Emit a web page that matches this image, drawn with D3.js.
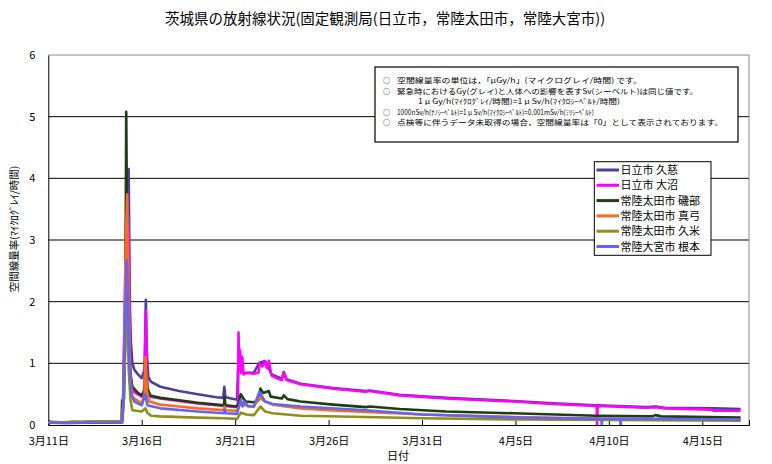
<!DOCTYPE html>
<html><head><meta charset="utf-8">
<script src="https://cdn.jsdelivr.net/npm/d3@7"></script>
<style>
body{margin:0;background:#fff;}
svg{display:block;font-family:"Noto Sans CJK JP","Noto Sans",sans-serif;}
</style></head><body>
<svg id="c" width="772" height="464"></svg>
<script>
// ---- data (time = days after 2011-03-11 00:00, value = μGy/h) ----
const titleText = "茨城県の放射線状況(固定観測局(日立市，常陸太田市，常陸大宮市))";
const yTitle = "空間線量率(ﾏｲｸﾛｸﾞﾚｲ/時間)";
const xTitle = "日付";
const seriesNames = ["日立市 久慈","日立市 大沼","常陸太田市 磯部","常陸太田市 真弓","常陸太田市 久米","常陸大宮市 根本"];
const seriesColors = ["#4B3F9B","#FF00FF","#1E3D10","#F76C1E","#8F8F1A","#6464F0"];
const yTicks = [0,1,2,3,4,5,6];
const xTickDays = [0,5,10,15,20,25,30,35];
const xTickLabels = ["3月11日","3月16日","3月21日","3月26日","3月31日","4月5日","4月10日","4月15日"];
const noteBullets = ["○","○","","○","○"];
const noteLines = [
  "空間線量率の単位は，「μGy/h」(マイクログレイ/時間) です。",
  "緊急時におけるGy(グレイ)と人体への影響を表すSv(シーベルト)は同じ値です。",
  "1 μ Gy/h(ﾏｲｸﾛｸﾞﾚｲ/時間)=1 μ Sv/h(ﾏｲｸﾛｼｰﾍﾞﾙﾄ/時間)",
  "1000nSv/h(ﾅﾉｼｰﾍﾞﾙﾄ)=1 μ Sv/h(ﾏｲｸﾛｼｰﾍﾞﾙﾄ)=0.001mSv/h(ﾐﾘｼｰﾍﾞﾙﾄ)",
  "点検等に伴うデータ未取得の場合，空間線量率は「0」として表示されております。"
];
const noteIndent = [0,0,1,0,0];
const noteWidths = [245,301,202,197,326];

const kuji = [[0,0.05],[1,0.04],[2,0.05],[3,0.04],[3.95,0.05],[4.0,0.3],[4.15,2.5],[4.3,4.15],[4.36,2.0],[4.42,1.33],[4.5,1.0],[4.6,0.9],[4.8,0.82],[5.0,0.76],[5.15,0.9],[5.22,2.03],[5.27,1.2],[5.35,0.78],[5.5,0.7],[6,0.62],[7,0.55],[8,0.5],[9,0.45],[9.36,0.44],[9.42,0.62],[9.48,0.45],[10.1,0.41],[10.2,1.27],[10.3,0.9],[10.45,0.84],[11,0.85],[11.3,1.01],[11.6,1.04],[11.95,0.82],[12.5,0.75],[12.6,0.86],[12.75,0.74],[13.5,0.67],[15.25,0.6],[17,0.55],[17.2,0.56],[18.8,0.49],[21.3,0.44],[24.9,0.39],[27,0.35],[29.3,0.32],[32,0.29],[32.5,0.3],[33,0.28],[35.6,0.27],[37.05,0.26]];
const onuma = [[0,0.04],[1,0.04],[2,0.04],[3,0.04],[3.95,0.04],[4.0,0.3],[4.2,3.92],[4.3,3.0],[4.38,0.9],[4.5,0.55],[5.0,0.46],[5.15,0.6],[5.22,1.85],[5.3,0.6],[5.45,0.46],[6,0.43],[7,0.39],[8,0.35],[9,0.32],[10.1,0.29],[10.15,0.35],[10.18,1.5],[10.22,0.9],[10.27,1.2],[10.32,0.85],[10.38,1.1],[10.45,0.82],[10.6,0.85],[11.0,0.83],[11.25,0.85],[11.3,1.0],[11.45,0.95],[11.6,1.03],[11.7,0.92],[11.8,1.04],[11.95,0.8],[12.3,0.75],[12.5,0.73],[12.6,0.85],[12.75,0.73],[13.5,0.66],[15.25,0.59],[17,0.54],[17.2,0.55],[18.8,0.48],[21.3,0.43],[24.9,0.38],[27,0.34],[29.35,0.31],[29.37,0],[29.4,0.31],[32,0.28],[32.5,0.29],[33,0.27],[35.5,0.25],[35.6,0.23],[37.05,0.23]];
const isobe = [[0,0.04],[1,0.04],[1.3,0.05],[2,0.04],[3,0.04],[3.92,0.05],[3.95,0.4],[4.05,0.42],[4.12,1.5],[4.17,5.08],[4.22,3.0],[4.3,1.5],[4.4,0.8],[4.5,0.62],[4.8,0.52],[5.0,0.48],[5.15,0.55],[5.22,1.0],[5.3,0.6],[5.45,0.48],[6,0.44],[7,0.4],[8,0.36],[9,0.33],[9.4,0.32],[9.43,0.45],[9.48,0.32],[10.1,0.3],[10.18,0.35],[10.3,0.5],[10.4,0.45],[10.55,0.38],[11,0.37],[11.25,0.4],[11.35,0.59],[11.5,0.52],[11.8,0.55],[11.9,0.46],[12.5,0.43],[12.6,0.48],[12.8,0.42],[13.5,0.38],[15.25,0.33],[17,0.29],[17.2,0.3],[18.8,0.26],[21.3,0.22],[24.9,0.19],[29.3,0.15],[32.3,0.14],[32.5,0.16],[32.8,0.14],[37.05,0.12]];
const mayumi = [[0,0.04],[2,0.05],[2.6,0.06],[3.9,0.06],[4.0,0.3],[4.15,3.0],[4.22,3.74],[4.3,2.0],[4.38,0.8],[4.5,0.45],[5.0,0.35],[5.15,0.5],[5.2,1.1],[5.28,0.55],[5.4,0.38],[6,0.33],[7,0.3],[8,0.27],[9,0.25],[9.4,0.24],[9.43,0.3],[9.48,0.24],[10.1,0.23],[10.3,0.35],[10.5,0.32],[11,0.3],[11.3,0.45],[11.5,0.4],[12,0.33],[13.5,0.27],[15,0.24],[17,0.21],[20,0.17],[25,0.13],[30,0.1],[37.05,0.08]];
const kume = [[0,0.04],[2,0.05],[2.6,0.06],[3.9,0.06],[4.0,0.2],[4.15,1.5],[4.22,2.4],[4.3,0.9],[4.4,0.4],[4.5,0.24],[5.0,0.22],[5.2,0.27],[5.3,0.2],[5.5,0.15],[6,0.14],[8,0.12],[9.4,0.11],[10.1,0.1],[10.3,0.2],[10.6,0.17],[11,0.16],[11.35,0.3],[11.6,0.22],[12,0.19],[13.5,0.15],[17,0.13],[20,0.11],[25,0.09],[30,0.08],[37.05,0.07]];
const nemoto = [[0,0.04],[1,0.03],[2,0.04],[3,0.04],[3.95,0.04],[4.0,0.3],[4.2,2.67],[4.28,1.8],[4.35,0.9],[4.45,0.5],[4.6,0.38],[5.0,0.32],[5.2,0.5],[5.3,0.32],[6,0.27],[8,0.22],[9.4,0.19],[9.43,0.25],[9.5,0.19],[10.1,0.18],[10.3,0.41],[10.4,0.3],[10.5,0.38],[10.7,0.3],[11,0.3],[11.3,0.54],[11.6,0.38],[12,0.34],[13.5,0.3],[17,0.24],[20,0.17],[25,0.12],[29.6,0.1],[29.62,0],[29.65,0.1],[30.6,0.1],[30.63,0],[30.66,0.1],[32.5,0.1],[37.05,0.09]];
const seriesData = [kuji, onuma, isobe, mayumi, kume, nemoto];

// ---- chart ----
const base = Date.UTC(2011,2,11);
const toDate = d => new Date(base + d*864e5);
const svg = d3.select("#c");
const x = d3.scaleUtc().domain([toDate(0), toDate(37.5)]).range([48.3, 749]);
const y = d3.scaleLinear().domain([0,6]).range([425, 55]);

// title
svg.append("text").attr("x",385).attr("y",24).attr("text-anchor","middle")
  .attr("font-size",14.5).attr("fill","#000").text(titleText);

// gridlines
svg.append("g").selectAll("line").data(yTicks.filter(v=>v>0&&v<6)).join("line")
  .attr("x1",x.range()[0]).attr("x2",x.range()[1])
  .attr("y1",d=>y(d)).attr("y2",d=>y(d)).attr("stroke","#000").attr("stroke-width",1);

// frame: top & right gray
svg.append("path").attr("d",`M${x.range()[0]},${y(6)}H${x.range()[1]}V${y(0)}`)
  .attr("fill","none").attr("stroke","#888").attr("stroke-width",1);

// y axis
const yAxis = svg.append("g").attr("transform",`translate(${x.range()[0]},0)`)
  .call(d3.axisLeft(y).tickValues(yTicks).tickSize(0).tickPadding(13).tickFormat(d3.format("d")));
yAxis.select(".domain").attr("stroke","#000");
yAxis.selectAll("text").attr("font-size",11).attr("fill","#000").attr("font-family","'Noto Sans CJK JP',sans-serif");

// x axis
const xAxis = svg.append("g").attr("transform",`translate(0,${y(0)})`)
  .call(d3.axisBottom(x).tickValues(xTickDays.map(toDate)).tickSize(-5).tickPadding(12)
    .tickFormat((d,i)=>xTickLabels[i]));
xAxis.select(".domain").attr("stroke","#000");
xAxis.selectAll("line").attr("stroke","#000");
xAxis.selectAll("text").attr("font-size",11).attr("fill","#000").attr("font-family","'Noto Sans CJK JP',sans-serif");

// axis titles
svg.append("text").attr("transform","translate(18,229) rotate(-90)").attr("text-anchor","middle")
  .attr("font-size",10.5).attr("fill","#000").text(yTitle);
svg.append("text").attr("x",398).attr("y",460).attr("text-anchor","middle")
  .attr("font-size",11).attr("fill","#000").text(xTitle);

// lines
const line = d3.line().x(d=>x(toDate(d[0]))).y(d=>y(d[1]));
const plot = svg.append("g");
plot.append("clipPath").attr("id","clip").append("rect")
  .attr("x",x.range()[0]).attr("y",y(6)).attr("width",x.range()[1]-x.range()[0]).attr("height",y(0)-y(6));
plot.selectAll("path").data(seriesData).join("path")
  .attr("d",line).attr("fill","none").attr("stroke",(d,i)=>seriesColors[i])
  .attr("stroke-width",2.6).attr("stroke-linejoin","round").attr("clip-path","url(#clip)");

// note box
const nb = svg.append("g");
nb.append("rect").attr("x",375).attr("y",67).attr("width",363).attr("height",75)
  .attr("fill","#fff").attr("stroke","#000").attr("stroke-width",1.2);
noteLines.forEach((t,i)=>{
  const yy = 83 + i*10.5;
  if(noteBullets[i]) nb.append("text").attr("x",383).attr("y",yy).attr("font-size",7.2).text(noteBullets[i]);
  nb.append("text").attr("x",noteIndent[i]?418:397).attr("y",yy).attr("font-size",7.2).attr("fill","#000")
    .attr("textLength",noteWidths[i]).attr("lengthAdjust","spacingAndGlyphs").text(t);
});

// legend
const lg = svg.append("g");
lg.append("rect").attr("x",594.3).attr("y",161.7).attr("width",116.7).attr("height",93.6)
  .attr("fill","#fff").attr("stroke","#000").attr("stroke-width",1);
seriesNames.forEach((s,i)=>{
  const yy = 170 + i*15.3;
  lg.append("line").attr("x1",596.5).attr("x2",619).attr("y1",yy).attr("y2",yy)
    .attr("stroke",seriesColors[i]).attr("stroke-width",3);
  lg.append("text").attr("x",620.5).attr("y",yy+4).attr("font-size",11).attr("fill","#000").text(s);
});
</script>
</body></html>
